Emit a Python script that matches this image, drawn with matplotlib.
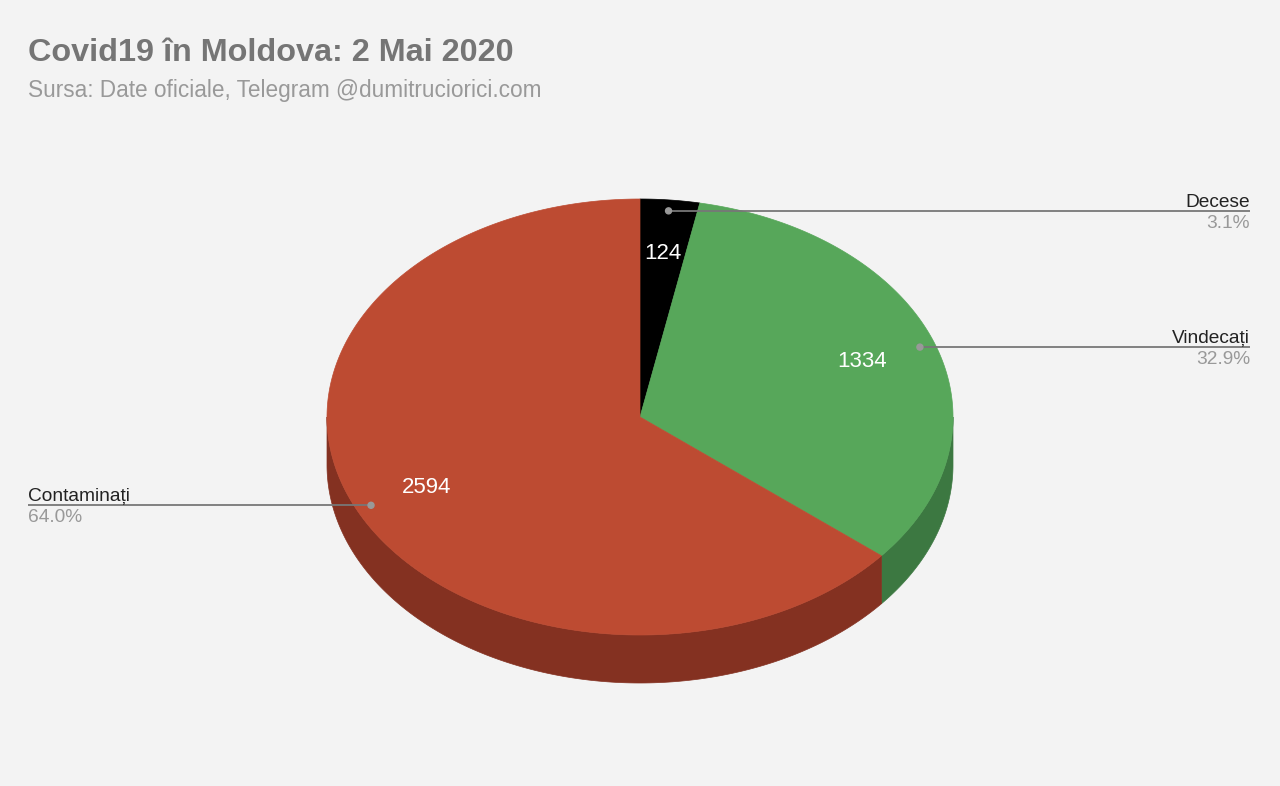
import numpy as np
import matplotlib
matplotlib.use("Agg")
import matplotlib.pyplot as plt
from matplotlib.patches import Polygon, Circle

plt.rcParams["font.family"] = ["Liberation Sans", "DejaVu Sans"]

labels = ["Decese", "Vindecați", "Contaminați"]
values = [124, 1334, 2594]
top_colors = ["#000000", "#57A75A", "#BD4B32"]
side_colors = ["#000000", "#3C7841", "#843121"]

title = "Covid19 în Moldova: 2 Mai 2020"
subtitle = "Sursa: Date oficiale, Telegram @dumitruciorici.com"

# geometry of the pie in pixels (y grows downward)
CX, CY = 640, 417
RX, RY = 313, 218
DEPTH = 48


def pt(theta_deg, f=1.0, dy=0.0):
    t = np.radians(theta_deg)
    return CX + RX * f * np.sin(t), CY - RY * f * np.cos(t) + dy


fig = plt.figure(figsize=(12.8, 7.86), dpi=100, facecolor="#F3F3F3")
ax = fig.add_axes([0, 0, 1, 1])
ax.set_xlim(0, 1280)
ax.set_ylim(786, 0)
ax.axis("off")
ax.set_facecolor("#F3F3F3")

total = sum(values)
fracs = [v / total for v in values]
bounds = np.concatenate([[0], np.cumsum(fracs)]) * 360

# side walls (front half only: 90..270 deg)
for i in range(len(values)):
    lo, hi = max(bounds[i], 90), min(bounds[i + 1], 270)
    if hi <= lo:
        continue
    th = np.linspace(lo, hi, 200)
    xs, ys = pt(th)
    poly = list(zip(xs, ys)) + list(zip(xs[::-1], ys[::-1] + DEPTH))
    ax.add_patch(Polygon(poly, closed=True, facecolor=side_colors[i],
                         edgecolor=side_colors[i], lw=0.5))

# top face
for i in range(len(values)):
    th = np.linspace(bounds[i], bounds[i + 1], 300)
    xs, ys = pt(th)
    poly = [(CX, CY)] + list(zip(xs, ys))
    ax.add_patch(Polygon(poly, closed=True, facecolor=top_colors[i],
                         edgecolor=top_colors[i], lw=0.5))

# value labels inside slices
for i, v in enumerate(values):
    mid = (bounds[i] + bounds[i + 1]) / 2
    x, y = pt(mid, 0.755)
    ax.text(x, y, str(v), color="white", fontsize=16, ha="center", va="center")

# leader lines and outside labels
for i, name in enumerate(labels):
    mid = (bounds[i] + bounds[i + 1]) / 2
    x, y = pt(mid, 0.95)
    pct = f"{fracs[i] * 100:.1f}%"
    if x >= CX:
        x_end, ha = 1250, "right"
    else:
        x_end, ha = 28, "left"
    ax.plot([x, x_end], [y, y], color="#777777", lw=1.3, solid_capstyle="butt")
    ax.add_patch(Circle((x, y), 3, color="#999999", zorder=5))
    ax.text(x_end, y - 4, name, color="#222222", fontsize=13.8, ha=ha, va="baseline")
    ax.text(x_end, y + 4, pct, color="#999999", fontsize=13.8, ha=ha, va="top")

ax.text(28, 61, title, color="#757575", fontsize=23.3, fontweight="bold",
        ha="left", va="baseline")
ax.text(28, 97, subtitle, color="#999999", fontsize=16.3, ha="left", va="baseline")

fig.savefig("out.png", dpi=100, facecolor=fig.get_facecolor())
